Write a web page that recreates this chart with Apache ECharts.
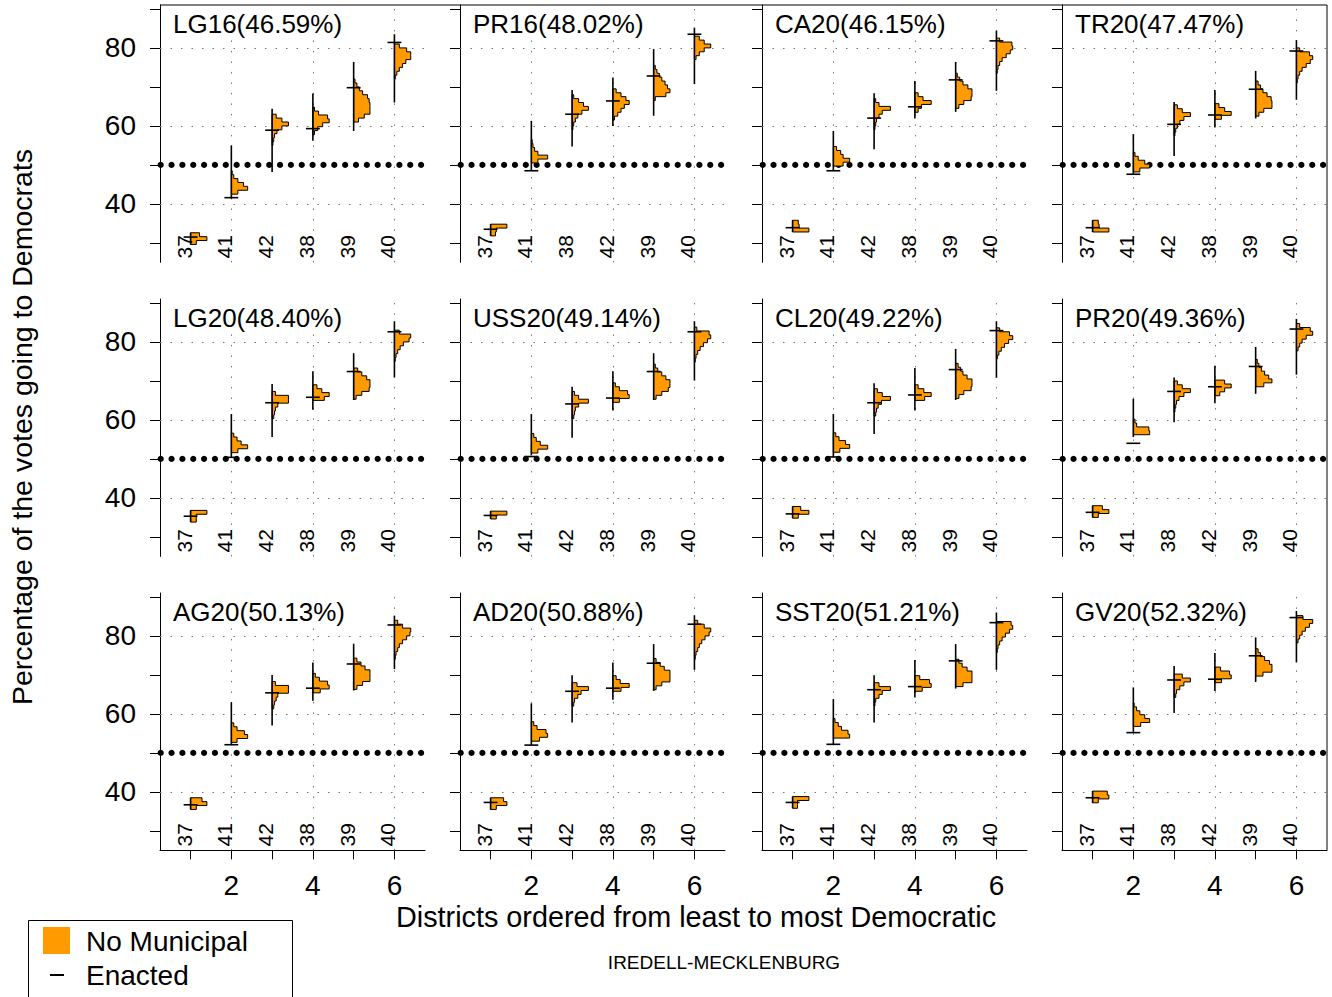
<!DOCTYPE html>
<html><head><meta charset="utf-8">
<script src="https://cdn.jsdelivr.net/npm/echarts@6/dist/echarts.min.js"></script>
<style>html,body{margin:0;padding:0;background:#fff}#c{width:1332px;height:997px}</style>
</head><body><div id="c"></div>
<script>
// ---------------- DATA ----------------
const panelTitles = ['LG16(46.59%)','PR16(48.02%)','CA20(46.15%)','TR20(47.47%)',
  'LG20(48.40%)','USS20(49.14%)','CL20(49.22%)','PR20(49.36%)',
  'AG20(50.13%)','AD20(50.88%)','SST20(51.21%)','GV20(52.32%)'];
const districtLabels = [
  ['37','41','42','38','39','40'],['37','41','38','42','39','40'],['37','41','42','38','39','40'],['37','41','42','38','39','40'],
  ['37','41','42','38','39','40'],['37','41','42','38','39','40'],['37','41','42','38','39','40'],['37','41','38','42','39','40'],
  ['37','41','42','38','39','40'],['37','41','42','38','39','40'],['37','41','42','38','39','40'],['37','41','38','42','39','40']];
const positions = [1,2,3,4,5,6];
const enactedValues = [
  [31.5,41.6,58.9,59.3,69.8,81.4],[33.5,48.5,63.0,66.4,72.8,83.5],[33.9,48.5,62.0,64.9,71.8,81.8],[33.9,47.6,60.4,62.8,69.4,79.2],
  [35.3,50.4,64.4,65.8,72.4,82.6],[35.5,50.6,64.1,65.6,72.4,82.6],[35.9,50.5,64.4,66.4,72.9,82.9],[36.3,54.0,67.3,68.5,73.7,83.3],
  [36.7,52.1,65.4,66.6,72.8,82.8],[37.3,52.0,65.8,66.6,73.0,83.0],[37.3,52.2,66.2,67.0,73.6,83.4],[38.5,55.2,68.7,68.9,74.9,84.7]];
const ensembleMin = [
  [29.6,41.4,48.2,56.2,58.7,66.0],[31.8,48.5,54.7,60.0,62.6,70.7],[32.8,48.5,54.0,61.9,63.6,69.0],[32.8,47.6,52.3,59.6,61.9,66.7],
  [33.8,50.4,55.6,62.6,65.1,70.9],[34.6,50.9,55.4,62.4,65.1,70.1],[34.8,50.4,56.4,62.4,65.1,70.8],[35.0,55.6,59.4,64.3,66.7,71.6],
  [35.5,52.3,57.0,63.4,66.0,71.5],[35.5,52.0,57.8,63.6,65.9,71.3],[35.8,52.2,57.8,64.2,66.5,71.3],[37.2,55.4,60.2,65.9,68.2,73.2]];
const ensembleMax = [
  [32.6,55.0,64.4,68.3,76.4,83.5],[34.8,61.3,69.2,72.4,79.7,85.2],[35.8,58.7,68.4,71.5,76.4,84.4],[35.8,57.9,66.1,69.2,74.1,82.0],
  [36.8,61.5,69.2,72.5,77.1,85.3],[36.6,61.5,68.5,72.5,77.1,85.3],[37.8,61.5,69.4,73.3,78.2,85.3],[38.0,65.4,70.9,73.9,78.7,85.9],
  [38.5,63.0,70.0,73.2,78.0,85.2],[38.5,62.7,69.9,73.2,77.9,85.3],[38.8,63.8,69.9,73.8,77.9,86.0],[40.2,66.8,72.3,75.6,79.6,86.4]];
const histStart = [
  [29.6,42.5,55.0,57.8,61.0,72.0],[31.8,50.5,59.0,61.5,66.5,77.0],[32.8,49.7,59.0,63.5,64.5,73.5],[32.8,48.2,57.4,61.7,62.5,71.0],
  [33.8,51.6,60.3,65.0,65.3,75.0],[34.6,51.5,60.3,64.5,65.3,74.8],[34.8,51.7,61.0,65.0,65.5,75.6],[35.0,56.2,62.0,66.2,68.5,77.7],
  [35.5,52.7,61.3,65.4,66.3,74.0],[35.5,53.0,62.0,65.8,66.2,74.0],[35.8,53.8,62.0,65.8,67.0,75.7],[37.2,56.8,64.2,68.0,69.7,78.2]];
const histHeights = [
  [[0.35,1.0,0.55],[0.4,1.0,0.75,0.4,0.15,0.05],[0.05,0.1,0.15,0.3,0.6,1.0,0.6,0.25],[0.1,0.3,0.6,1.0,0.9,0.35,0.1],[0.3,0.65,1.0,1.0,1.0,0.95,0.85,0.55,0.35,0.2,0.08],[0.05,0.15,0.3,0.5,0.7,1.0,1.0,0.75,0.3]],
  [[0.3,0.35,1.0],[0.4,1.0,0.4,0.2,0.1,0.05],[0.05,0.1,0.2,0.35,0.6,1.0,0.7,0.4,0.1],[0.1,0.3,0.5,0.7,1.0,0.8,0.5,0.2],[0.1,0.75,1.0,0.85,0.7,0.5,0.35,0.2,0.1],[0.1,0.3,0.6,1.0,0.6,0.3]],
  [[1.0,0.4,0.35],[0.6,1.0,0.6,0.45,0.2],[0.05,0.1,0.15,0.3,0.5,1.0,0.3,0.1],[0.2,0.4,1.0,0.5,0.2],[0.2,0.5,0.95,1.0,1.0,0.75,0.45,0.25,0.1],[0.05,0.1,0.2,0.35,0.6,0.85,1.0,0.95,0.2]],
  [[1.0,0.4,0.35],[0.4,1.0,0.7,0.3,0.1],[0.05,0.1,0.2,0.35,0.6,1.0,0.5,0.2],[0.4,1.0,0.6,0.25],[0.2,0.5,1.0,1.0,0.95,0.7,0.45,0.3,0.15],[0.05,0.1,0.2,0.35,0.6,0.85,1.0,0.8,0.2]],
  [[0.35,0.35,1.0],[0.4,1.0,0.6,0.35,0.15],[0.1,0.15,0.2,0.35,1.0,1.0,0.2],[0.7,1.0,0.55,0.25],[0.15,0.5,0.95,1.0,1.0,0.8,0.5,0.25],[0.05,0.1,0.2,0.35,0.55,0.9,1.0,0.3]],
  [[0.35,1.0],[0.4,1.0,0.55,0.3,0.15],[0.1,0.15,0.2,0.4,1.0,0.4,0.15],[0.4,1.0,0.9,0.4,0.15],[0.15,0.5,0.9,1.0,1.0,0.75,0.5,0.25,0.1],[0.05,0.1,0.2,0.35,0.55,0.8,1.0,0.9,0.15]],
  [[0.35,1.0,0.5],[0.4,1.0,0.75,0.35,0.15],[0.1,0.15,0.25,0.45,1.0,0.5,0.2],[0.6,1.0,0.55,0.2],[0.2,0.5,0.95,1.0,1.0,0.7,0.45,0.3,0.15],[0.05,0.15,0.3,0.5,0.75,1.0,0.8,0.2]],
  [[0.35,1.0,0.6],[1.0,0.95,0.2,0.1],[0.05,0.1,0.15,0.3,0.6,1.0,0.5,0.2],[0.3,0.6,1.0,0.6],[0.5,1.0,0.8,0.55,0.35,0.2,0.1],[0.1,0.2,0.35,0.6,1.0,0.85,0.2]],
  [[0.35,1.0,0.7],[0.35,1.0,0.8,0.35,0.15],[0.1,0.15,0.25,0.35,1.0,1.0,0.2],[0.45,1.0,0.9,0.4,0.15],[0.2,0.55,1.0,1.0,1.0,0.7,0.45,0.2],[0.05,0.1,0.2,0.3,0.5,0.75,0.95,1.0,0.5,0.2]],
  [[0.35,1.0,0.8],[0.5,1.0,0.9,0.35,0.15],[0.1,0.15,0.35,0.55,1.0,0.3],[0.5,1.0,0.45,0.2],[0.15,0.5,1.0,1.0,1.0,0.65,0.4,0.15],[0.05,0.1,0.2,0.3,0.45,0.65,0.9,1.0,0.6,0.2]],
  [[0.3,0.3,1.0],[1.0,0.9,0.5,0.3,0.1],[0.05,0.1,0.3,0.5,1.0,0.3],[0.45,1.0,0.9,0.3],[0.45,1.0,1.0,1.0,0.7,0.4,0.2],[0.05,0.1,0.2,0.35,0.55,0.8,1.0,0.9]],
  [[0.35,1.0,0.9],[0.45,1.0,0.7,0.4,0.2,0.05],[0.1,0.15,0.35,0.6,1.0,0.5],[0.4,1.0,0.9,0.35],[0.45,1.0,1.0,0.85,0.55,0.3,0.15],[0.1,0.2,0.35,0.55,0.8,1.0,0.4]]];
const binWidth = 1;
const xTickValues = [1,2,3,4,5,6];
const xLabelValues = [2,4,6];
const yTickValues = [30,40,50,60,70,80,90];
const yLabelValues = [40,60,80];
const gridXValues = [2,4,6];
const gridYValues = [40,60,80];
const referenceY = 50;
const districtLabelY = 26;

// ---------------- LAYOUT / STYLE ----------------
const FONT = '"Liberation Sans", Arial, Helvetica, sans-serif';
const ORANGE = '#FF9A00';
const colLeft = [160, 460, 762, 1062];
const rowTop = [5, 299, 593];
const GW = 265, GH = 257.4;
const XMIN = 0.25, XMAX = 6.75, YMIN = 25, YMAX = 91;
const HIST_W = 0.4;   // max histogram width in x units
const ENACT_HALF = 0.17;
const DOT_STEP = 10.85, DOT_R = 3.1;

const grids = [], xAxes = [], yAxes = [], series = [], titles = [];
panelTitles.forEach((t, p) => {
  const r = Math.floor(p / 4), c = p % 4;
  grids.push({left: colLeft[c], top: rowTop[r], width: GW, height: GH, containLabel: false, outerBoundsMode: 'none'});
  xAxes.push({
    gridIndex: p, type: 'value', min: XMIN, max: XMAX,
    axisLine: {show: r === 2, onZero: false, lineStyle: {color: '#000', width: 1}},
    axisTick: {show: r === 2, customValues: xTickValues, length: 9, lineStyle: {color: '#000', width: 1}},
    axisLabel: {show: r === 2, customValues: xLabelValues, fontSize: 28, color: '#000', fontFamily: FONT, margin: 21},
    splitLine: {show: false}
  });
  yAxes.push({
    gridIndex: p, type: 'value', min: YMIN, max: YMAX,
    axisLine: {show: true, onZero: false, lineStyle: {color: '#000', width: 1}},
    axisTick: {show: true, customValues: yTickValues, length: 10, lineStyle: {color: '#000', width: 1}},
    axisLabel: {show: c === 0, customValues: yLabelValues, fontSize: 28, color: '#000', fontFamily: FONT, margin: 24},
    splitLine: {show: false}
  });
  titles.push({
    text: t, left: colLeft[c] + 10, top: rowTop[r] + 3, padding: [2, 3], backgroundColor: '#fff',
    textStyle: {fontSize: 26, fontWeight: 'normal', color: '#000', fontFamily: FONT, lineHeight: 28}
  });
  const gridLineStyle = {color: '#777', width: 1, type: [1.5, 9]};
  const markData = [];
  gridXValues.forEach(v => markData.push({xAxis: v, lineStyle: gridLineStyle}));
  gridYValues.forEach(v => markData.push({yAxis: v, lineStyle: gridLineStyle}));

  series.push({
    type: 'custom', xAxisIndex: p, yAxisIndex: p, z: 3, silent: true, animation: false,
    data: positions.map((x, i) => [x, enactedValues[p][i]]),
    encode: {x: 0, y: 1},
    markLine: {silent: true, symbol: ['none', 'none'], label: {show: false}, z: 1, animation: false, data: markData},
    renderItem: function (params, api) {
      const i = params.dataIndex;
      const x = api.value(0);
      const children = [];
      if (i === 0) {
        // dotted reference line at 50%
        const a = api.coord([XMIN, referenceY]), b = api.coord([XMAX, referenceY]);
        for (let px = a[0] + 0.7; px <= b[0] - 2; px += DOT_STEP) {
          children.push({type: 'circle', shape: {cx: px, cy: a[1], r: DOT_R}, style: {fill: '#000'}});
        }
      }
      const s = histStart[p][i], hs = histHeights[p][i];
      const pts = [api.coord([x, s])];
      hs.forEach((h, j) => {
        pts.push(api.coord([x + h * HIST_W, s + j * binWidth]));
        pts.push(api.coord([x + h * HIST_W, s + (j + 1) * binWidth]));
      });
      pts.push(api.coord([x, s + hs.length * binWidth]));
      const lo = api.coord([x, ensembleMin[p][i]]), hi = api.coord([x, ensembleMax[p][i]]);
      const e1 = api.coord([x - ENACT_HALF, api.value(1)]), e2 = api.coord([x + ENACT_HALF, api.value(1)]);
      const lab = api.coord([x, districtLabelY]);
      children.push(
        {type: 'polygon', shape: {points: pts}, style: {fill: ORANGE, stroke: '#000', lineWidth: 1}},
        {type: 'line', shape: {x1: lo[0], y1: lo[1], x2: hi[0], y2: hi[1]}, style: {stroke: '#000', lineWidth: 1.6}},
        {type: 'line', shape: {x1: e1[0], y1: e1[1], x2: e2[0], y2: e2[1]}, style: {stroke: '#000', lineWidth: 1.6}},
        {type: 'text', x: lab[0] + 4, y: lab[1], rotation: Math.PI / 2,
         style: {text: districtLabels[p][i], fill: '#000', fontSize: 21, fontFamily: FONT,
                 align: 'left', textAlign: 'left', verticalAlign: 'bottom', textVerticalAlign: 'bottom'}}
      );
      return {type: 'group', children: children};
    }
  });
});

const txt = (text, x, y, size, extra) => Object.assign({
  type: 'text', x: x, y: y,
  style: {text: text, fill: '#000', fontSize: size, fontFamily: FONT,
          align: 'center', textAlign: 'center', verticalAlign: 'middle', textVerticalAlign: 'middle'}
}, extra || {});

const graphics = [
  {type: 'line', shape: {x1: 160, y1: 5, x2: 1327, y2: 5}, style: {stroke: '#000', lineWidth: 1}},
  {type: 'line', shape: {x1: 1327, y1: 5, x2: 1327, y2: 850}, style: {stroke: '#000', lineWidth: 1}},
  txt('Percentage of the votes going to Democrats', 22, 427, 28.5, {rotation: Math.PI / 2}),
  txt('Districts ordered from least to most Democratic', 696, 917, 28.8),
  txt('IREDELL-MECKLENBURG', 724, 962, 19),
  {type: 'rect', shape: {x: 28.5, y: 920.5, width: 264, height: 80}, style: {fill: '#fff', stroke: '#000', lineWidth: 1}},
  {type: 'rect', shape: {x: 43, y: 927, width: 27, height: 27}, style: {fill: ORANGE}},
  {type: 'line', shape: {x1: 50, y1: 975, x2: 64, y2: 975}, style: {stroke: '#000', lineWidth: 2}},
  {type: 'text', x: 86, y: 941, style: {text: 'No Municipal', fill: '#000', fontSize: 28, fontFamily: FONT, align: 'left', textAlign: 'left', verticalAlign: 'middle', textVerticalAlign: 'middle'}},
  {type: 'text', x: 86, y: 975, style: {text: 'Enacted', fill: '#000', fontSize: 28, fontFamily: FONT, align: 'left', textAlign: 'left', verticalAlign: 'middle', textVerticalAlign: 'middle'}}
];

const chart = echarts.init(document.getElementById('c'), null, {renderer: 'svg', width: 1332, height: 997});
chart.setOption({
  animation: false,
  backgroundColor: '#fff',
  title: titles,
  grid: grids,
  xAxis: xAxes,
  yAxis: yAxes,
  series: series,
  graphic: graphics
});
</script>
</body></html>
